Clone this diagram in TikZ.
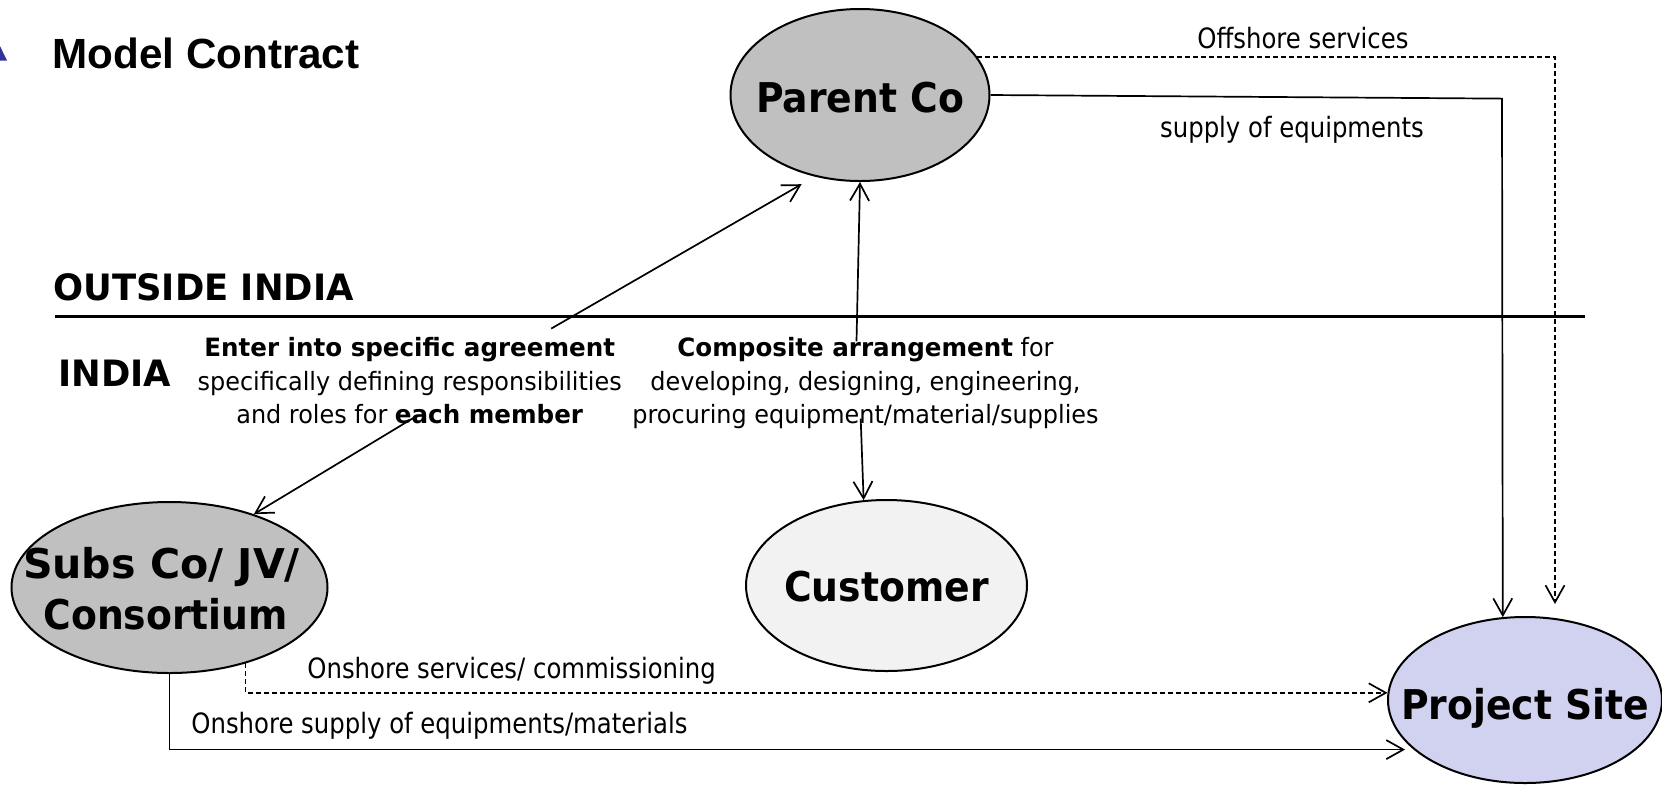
\documentclass[tikz,border=0pt]{standalone}
\usepackage{graphicx}
\usepackage{fontspec}
\setmainfont{DejaVu Sans}[FakeStretch=0.95]
\newfontfamily\bfblock{DejaVu Sans}[FakeStretch=0.975]
\newfontfamily\lblfont{DejaVu Sans}[FakeStretch=0.87]
\newfontfamily\bigfont{DejaVu Sans}[FakeStretch=0.92]
\newfontfamily\titlefont{Liberation Sans}
\usetikzlibrary{arrows.meta,shapes.geometric}
\definecolor{nodegray}{RGB}{192,192,192}
\definecolor{custfill}{RGB}{242,242,242}
\definecolor{sitefill}{RGB}{208,210,240}
\definecolor{triblue}{RGB}{51,51,153}
\newcommand\bstr{\rule[-3pt]{0pt}{13pt}}
\newcommand\lstr{\rule[-1.75pt]{0pt}{19.75pt}}
\newcommand\hb[1]{{\bfblock\bfseries #1}}
\begin{document}
\begin{tikzpicture}[x=0.5pt,y=-0.5pt,
  entity/.style={ellipse, draw=black, line width=1pt, inner sep=0pt,
    font=\bigfont\bfseries\fontsize{20.5}{25.25}\selectfont},
  blocktxt/.style={align=center, inner sep=0pt, font=\fontsize{12.6}{16.65}\selectfont},
  lbl/.style={inner sep=0pt, font=\lblfont\fontsize{14}{17}\selectfont},
  region/.style={inner sep=0pt, anchor=base west, font=\bfblock\bfseries\fontsize{18.15}{22}\selectfont},
  link/.style={line width=0.85pt, -{Straight Barb[length=8.5pt,width=9.5pt]}},
  dlink/.style={link, dash pattern=on 2.5pt off 1.5pt},
]
\useasboundingbox (0,0) rectangle (1662,784);
\clip (0,0) rectangle (1662,784);
\fill[white] (0,0) rectangle (1662,784);

% title
\fill[triblue] (-3,40) -- (7,60.5) -- (-13,60.5) -- cycle;
\node[inner sep=0pt, anchor=base west, font=\titlefont\bfseries\fontsize{21.1}{25}\selectfont] (title) at (52,68) {Model Contract};

% regions
\node[region] (outside) at (53,300) {OUTSIDE INDIA};
\node[region] (india) at (58,386) {INDIA};
\draw[line width=1.5pt] (55,316) -- (1585,316);

% entities
\node[entity, fill=nodegray, minimum width=129.5pt, minimum height=86pt, text height=17pt, text depth=0pt]
  (parent) at (860,95) {\makebox[0pt]{Parent Co}};
\node[entity, fill=nodegray, minimum width=158pt, minimum height=85.5pt, align=center]
  (subs) at (169.5,587.5) {\lstr\makebox[0pt]{\scalebox{1.09}[1]{Subs Co/ JV/}\hspace{8pt}}\\\lstr\makebox[0pt]{Consortium\hspace{3.7pt}}};
\node[entity, fill=custfill, minimum width=140.5pt, minimum height=85.5pt, text height=15.5pt, text depth=0pt]
  (customer) at (886.5,585.5) {\makebox[0pt]{Customer}};
\node[entity, fill=sitefill, minimum width=137pt, minimum height=83pt, text height=19pt, text depth=0pt]
  (project) at (1525,700) {\makebox[0pt]{Project Site}};

% text blocks
\node[blocktxt] (agree) at (409.7,383)
  {\bstr\hb{Enter into specific agreement}\\\bstr specifically defining responsibilities\\\bstr and roles for \hb{each member}};
\node[blocktxt] (comp) at (865.5,383)
  {\bstr\hb{Composite arrangement} for\\\bstr developing, designing, engineering,\\\bstr procuring equipment/material/supplies};

% labels
\node[lbl, anchor=base] (offlbl) at (1303,48.5) {Offshore services};
\node[lbl, anchor=base] (suplbl) at (1292,137) {supply of equipments};
\node[lbl, anchor=base west] (onsvc) at (307,678) {Onshore services/ commissioning};
\node[lbl, anchor=base west] (onsup) at (191,733.5) {Onshore supply of equipments/materials};

% connector end points
\coordinate (agreeTop) at (551.2,328.6);
\coordinate (agreeBot) at (415,417);
\coordinate (compTop) at (856.5,341.3);
\coordinate (compBot) at (860.7,418.7);
\coordinate (supCorner) at (1502,98.6);
\coordinate (offEnd) at (1555,604);

% connectors
\draw[dlink] (parent.18.6) -| (offEnd);
\draw[link] (parent.east) -- (supCorner) -- (project.105.7);
\draw[link, shorten >=7.6pt] (agreeTop) -- (parent.241.2);
\draw[link] (compTop) -- (parent.south);
\draw[link] (compBot) -- (customer.105.7);
\draw[link] (agreeBot) -- (subs.41);
\draw[dlink] (subs.315.2) |- (project.177.5);
\draw[link, shorten >=4.3pt] (subs.south) |- (project.204.9);
\end{tikzpicture}
\end{document}
